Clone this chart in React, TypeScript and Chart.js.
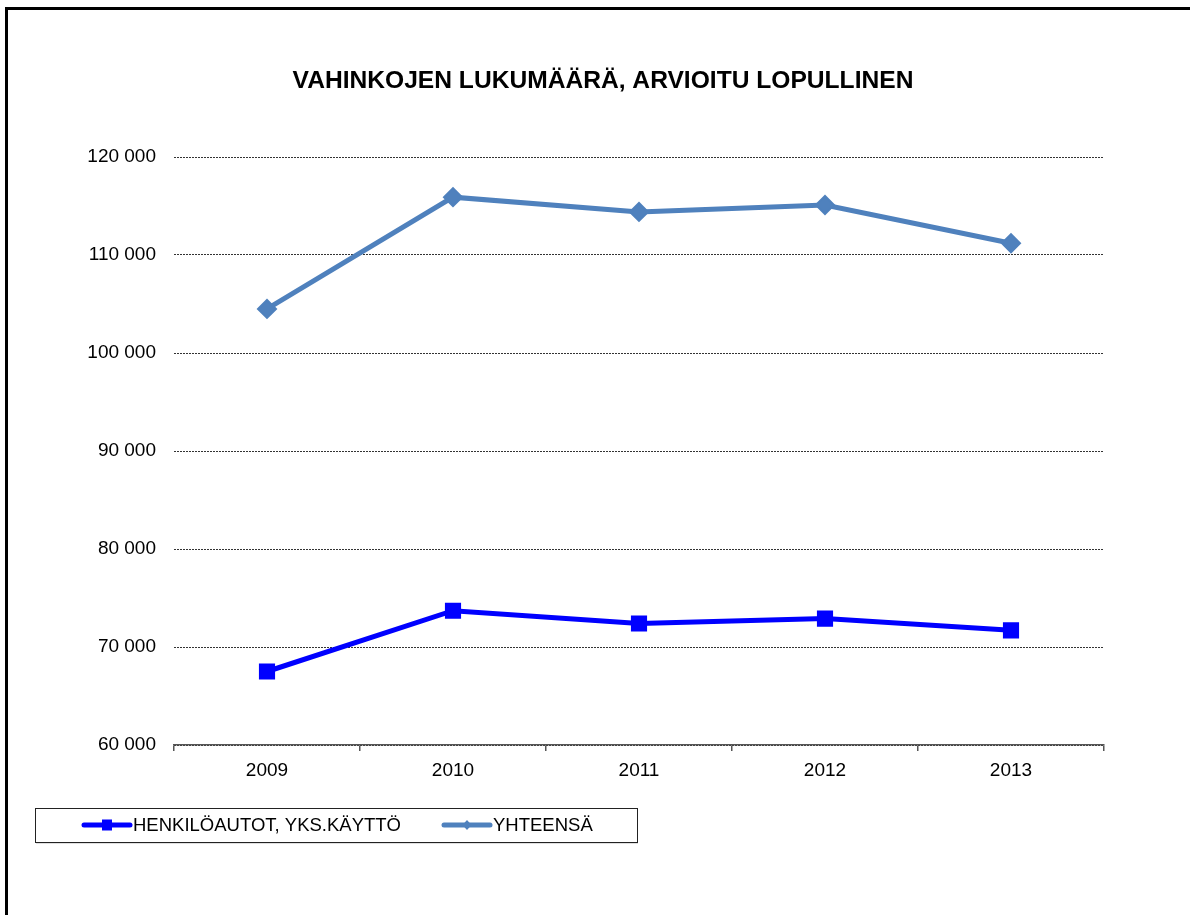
import React, { useEffect, useRef } from "react";
import { Chart, registerables } from "chart.js";

Chart.register(...registerables);

const chartTitle = "VAHINKOJEN LUKUMÄÄRÄ, ARVIOITU LOPULLINEN";
const years = ["2009", "2010", "2011", "2012", "2013"];
const henkiloautotLabel = "HENKILÖAUTOT, YKS.KÄYTTÖ";
const henkiloautot = [67500, 73700, 72400, 72900, 71700];
const yhteensaLabel = "YHTEENSÄ";
const yhteensa = [104500, 115900, 114400, 115100, 111200];
const yMin = 60000;
const yMax = 120000;
const yStep = 10000;

const FONT = "'Liberation Sans', Arial, sans-serif";

const fmt = (v: number) =>
  Math.round(v).toString().replace(/\B(?=(\d{3})+(?!\d))/g, " ");

const titlePlugin = {
  id: "pageTitle",
  afterDraw(chart: any) {
    const ctx = chart.ctx as CanvasRenderingContext2D;
    ctx.save();
    ctx.fillStyle = "#000";
    ctx.font = `bold 24.6px ${FONT}`;
    ctx.textAlign = "center";
    ctx.textBaseline = "middle";
    ctx.fillText(chart.options.plugins.pageTitle.text, 603, 81);
    ctx.restore();
  },
};

const legendPlugin = {
  id: "boxLegend",
  afterDraw(chart: any) {
    const ctx = chart.ctx as CanvasRenderingContext2D;
    ctx.save();
    ctx.fillStyle = "rgba(0,0,0,0.25)";
    ctx.fillRect(36, 842, 602, 1.5);
    ctx.strokeStyle = "#222";
    ctx.lineWidth = 1;
    ctx.strokeRect(35.5, 808.5, 602, 34);
    const starts = [82, 442];
    const cy = 825;
    chart.data.datasets.forEach((ds: any, i: number) => {
      const x = starts[i];
      ctx.strokeStyle = ds.borderColor;
      ctx.lineWidth = 5;
      ctx.lineCap = "round";
      ctx.beginPath();
      ctx.moveTo(x + 2, cy);
      ctx.lineTo(x + 48, cy);
      ctx.stroke();
      ctx.fillStyle = ds.borderColor;
      const mx = x + 25;
      if (ds.pointStyle === "rect") {
        ctx.fillRect(mx - 5, cy - 5.5, 10, 11);
      } else {
        ctx.beginPath();
        ctx.moveTo(mx, cy - 5);
        ctx.lineTo(mx + 4.5, cy);
        ctx.lineTo(mx, cy + 5);
        ctx.lineTo(mx - 4.5, cy);
        ctx.closePath();
        ctx.fill();
      }
      ctx.fillStyle = "#000";
      ctx.font = `18.5px ${FONT}`;
      ctx.textBaseline = "middle";
      ctx.textAlign = "left";
      ctx.fillText(ds.label, x + 51, cy + 1);
    });
    ctx.restore();
  },
};

export default function App() {
  const ref = useRef<HTMLCanvasElement | null>(null);

  useEffect(() => {
    if (!ref.current) return;
    Chart.defaults.font.family = FONT;
    Chart.defaults.color = "#000";
    const chart = new Chart(ref.current, {
      type: "line",
      data: {
        labels: years,
        datasets: [
          {
            label: henkiloautotLabel,
            data: henkiloautot,
            borderColor: "#0000FF",
            backgroundColor: "#0000FF",
            borderWidth: 5,
            pointStyle: "rect",
            pointRadius: 10,
            pointBorderWidth: 2,
            pointBackgroundColor: "#0000FF",
            pointBorderColor: "#0000FF",
            tension: 0,
          },
          {
            label: yhteensaLabel,
            data: yhteensa,
            borderColor: "#4F81BD",
            backgroundColor: "#4F81BD",
            borderWidth: 5,
            pointStyle: "rectRot",
            pointRadius: 9,
            pointBorderWidth: 2,
            pointBackgroundColor: "#4F81BD",
            pointBorderColor: "#4F81BD",
            tension: 0,
          },
        ],
      },
      options: {
        responsive: false,
        animation: false,
        events: [],
        layout: { padding: { left: 0, right: 86, top: 157, bottom: 110 } },
        plugins: {
          legend: { display: false },
          tooltip: { enabled: false },
          title: { display: false },
          pageTitle: { text: chartTitle },
        } as any,
        scales: {
          x: {
            type: "category",
            offset: true,
            afterFit: (s: any) => {
              s.height = 60;
            },
            grid: {
              offset: true,
              drawOnChartArea: false,
              drawTicks: true,
              tickLength: 6,
              color: "#555",
              lineWidth: 1.5,
            },
            border: { display: true, color: "#555", width: 1.5 },
            ticks: {
              color: "#000",
              padding: 8,
              font: { family: FONT, size: 19 },
              maxRotation: 0,
            },
          },
          y: {
            min: yMin,
            max: yMax,
            afterFit: (s: any) => {
              s.width = 174;
            },
            grid: {
              color: "#333",
              lineWidth: 1,
              drawTicks: false,
            },
            border: { display: false, dash: [2, 1] },
            ticks: {
              stepSize: yStep,
              padding: 18,
              color: "#000",
              font: { family: FONT, size: 19 },
              callback: (v: any) => fmt(Number(v)),
            },
          },
        },
      },
      plugins: [titlePlugin, legendPlugin],
    });
    return () => chart.destroy();
  }, []);

  return (
    <div
      style={{
        position: "fixed",
        left: 0,
        top: 0,
        width: 1190,
        height: 915,
        overflow: "hidden",
        background: "#fff",
      }}
    >
      <div
        style={{
          position: "absolute",
          left: 5,
          top: 7,
          width: 1300,
          height: 1100,
          border: "3px solid #000",
          boxSizing: "border-box",
        }}
      />
      <canvas
        ref={ref}
        width={1190}
        height={915}
        style={{ position: "absolute", left: 0, top: 0 }}
      />
    </div>
  );
}
